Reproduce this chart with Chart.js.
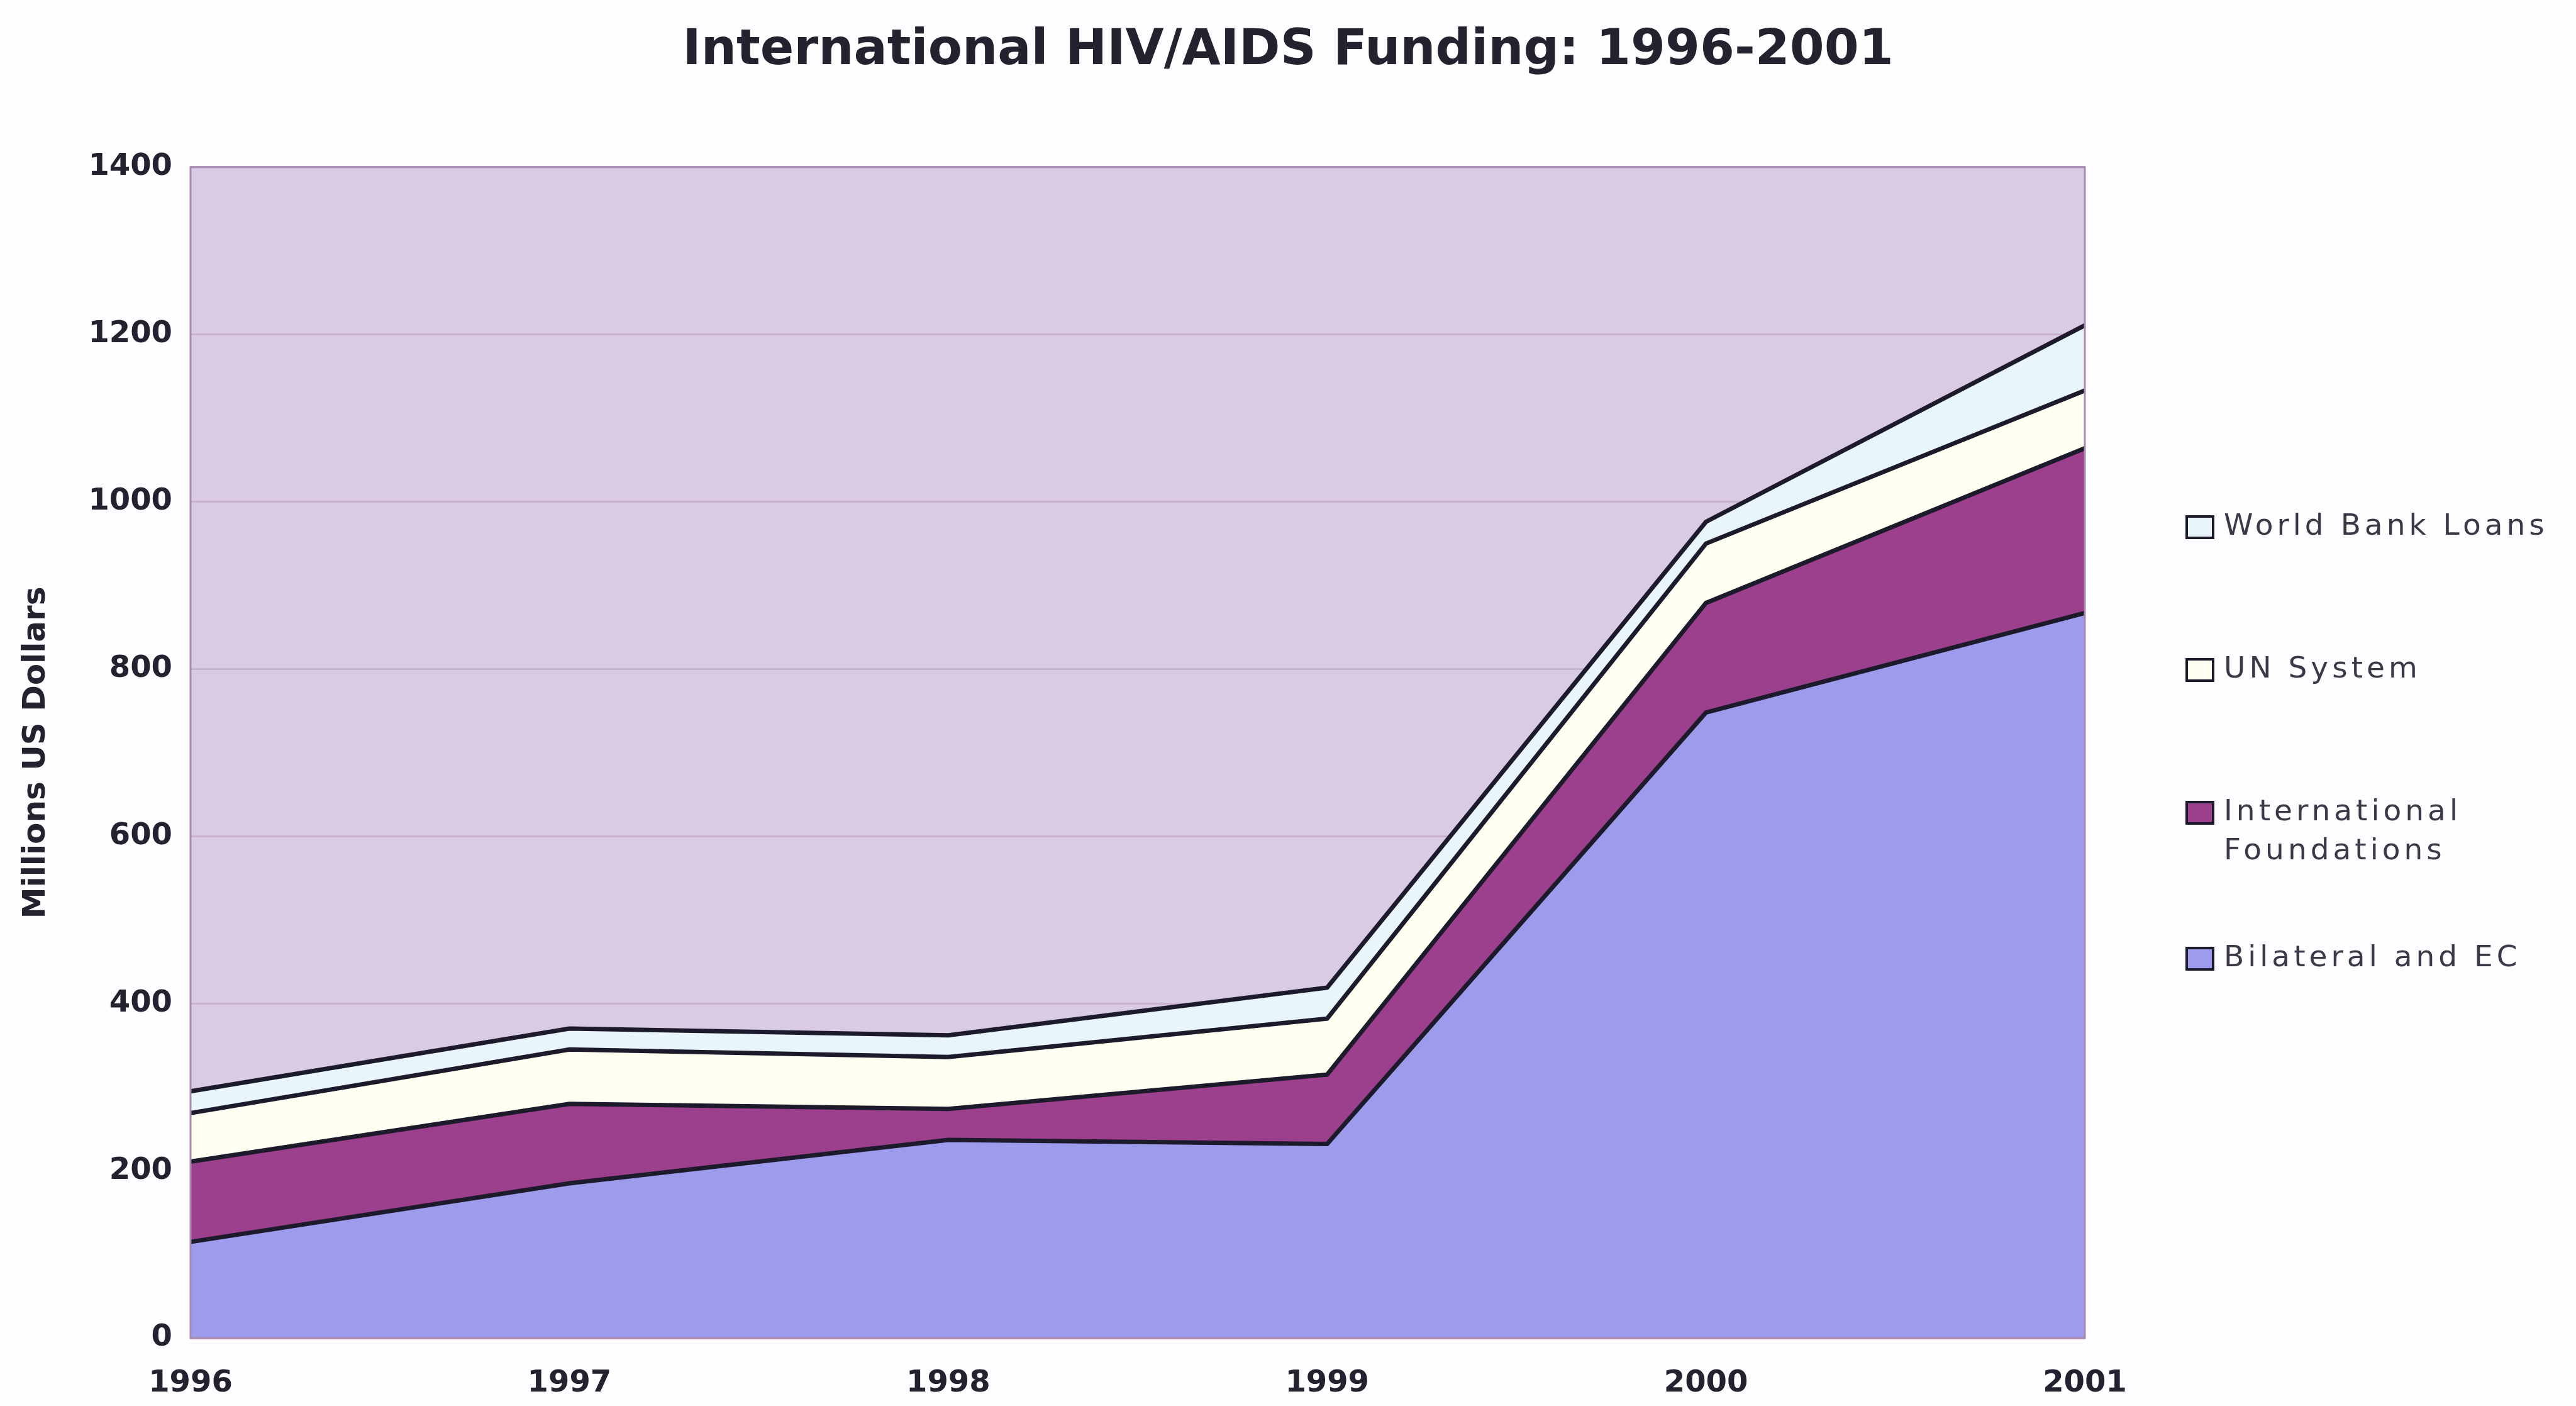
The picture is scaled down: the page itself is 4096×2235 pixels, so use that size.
<!DOCTYPE html>
<html lang="en">
<head>
<meta charset="UTF-8">
<title>International HIV/AIDS Funding: 1996-2001</title>
<script src="https://cdn.jsdelivr.net/npm/chart.js"></script>
<style>
    html, body {
        margin: 0;
        padding: 0;
        background: #fdfdff;
    }
    #myChart {
        display: block;
    }
</style>
</head>
<body>

<canvas id="myChart" width="4096" height="2235"></canvas>

<script>
    // values (millions of US dollars, per layer)
    const years = ['1996', '1997', '1998', '1999', '2000', '2001'];
    const bilateralEC = [115, 185, 237, 232, 748, 867];
    const intlFoundations = [96, 95, 37, 83, 131, 197];
    const unSystem = [58, 65, 62, 67, 71, 69];
    const worldBankLoans = [26, 25, 26, 37, 26, 78];

    const yMax = 1400;
    const yStep = 200;

    // legend, top to bottom as in the picture
    const legendItems = [
        { lines: ['World Bank Loans'], color: '#e8f6fb' },
        { lines: ['UN System'], color: '#fffff2' },
        { lines: ['International', 'Foundations'], color: '#9c3f8c' },
        { lines: ['Bilateral and EC'], color: '#9c9bec' }
    ];

    const outline = '#1d1b2b';
    const textColor = '#25222f';

    const plotBackground = {
        id: 'plotBackground',
        beforeDraw(chart) {
            const a = chart.chartArea;
            const c = chart.ctx;
            c.save();
            c.fillStyle = '#dacbe5';
            c.fillRect(a.left, a.top, a.right - a.left, a.bottom - a.top);
            c.restore();
        },
        afterDraw(chart) {
            const a = chart.chartArea;
            const c = chart.ctx;
            c.save();
            c.strokeStyle = '#a88aae';
            c.lineWidth = 3;
            c.strokeRect(a.left, a.top, a.right - a.left, a.bottom - a.top);
            c.restore();
        }
    };

    const sideLegend = {
        id: 'sideLegend',
        afterDraw(chart) {
            const c = chart.ctx;
            const rowY = [838, 1065, 1292, 1524];
            c.save();
            c.font = '47px "DejaVu Sans"';
            c.letterSpacing = '6px';
            c.textBaseline = 'middle';
            legendItems.forEach((item, i) => {
                const y = rowY[i];
                c.fillStyle = item.color;
                c.fillRect(3477, y - 17, 42, 34);
                c.strokeStyle = outline;
                c.lineWidth = 4;
                c.strokeRect(3477, y - 17, 42, 34);
                c.fillStyle = '#3c3848';
                item.lines.forEach((t, k) => {
                    c.fillText(t, 3536, y + k * 62);
                });
            });
            c.restore();
        }
    };

    function layer(label, data, color, fill) {
        return {
            label: label,
            data: data,
            backgroundColor: color,
            borderColor: outline,
            borderWidth: 7,
            fill: fill,
            pointRadius: 0,
            tension: 0
        };
    }

    const ctx = document.getElementById('myChart').getContext('2d');
    const chart = new Chart(ctx, {
        type: 'line',
        data: {
            labels: years,
            datasets: [
                layer('Bilateral and EC', bilateralEC, legendItems[3].color, 'origin'),
                layer('International Foundations', intlFoundations, legendItems[2].color, '-1'),
                layer('UN System', unSystem, legendItems[1].color, '-1'),
                layer('World Bank Loans', worldBankLoans, legendItems[0].color, '-1')
            ]
        },
        options: {
            responsive: false,
            animation: false,
            layout: {
                padding: 0
            },
            plugins: {
                legend: { display: false },
                tooltip: { enabled: false },
                title: {
                    display: true,
                    text: 'International HIV/AIDS Funding: 1996-2001',
                    color: textColor,
                    font: { family: '"DejaVu Sans"', size: 79, weight: 'bold', lineHeight: 1.2 },
                    padding: { top: 34, bottom: 137 }
                }
            },
            scales: {
                x: {
                    offset: false,
                    grid: { display: false },
                    border: { display: false },
                    ticks: {
                        color: textColor,
                        font: { family: '"DejaVu Sans"', size: 48, weight: 'bold' },
                        padding: 36,
                        maxRotation: 0
                    },
                    afterFit(scale) { scale.height = 108; }
                },
                y: {
                    stacked: true,
                    min: 0,
                    max: yMax,
                    ticks: {
                        stepSize: yStep,
                        color: textColor,
                        font: { family: '"DejaVu Sans"', size: 48, weight: 'bold' },
                        padding: 29,
                        callback: (v) => String(v)
                    },
                    grid: {
                        color: '#c8b2cf',
                        lineWidth: 3,
                        drawTicks: false
                    },
                    border: { display: false },
                    title: {
                        display: true,
                        text: 'Millions US Dollars',
                        color: textColor,
                        font: { family: '"DejaVu Sans"', size: 50, weight: 'bold' },
                        padding: { top: 28, bottom: 0 }
                    },
                    afterFit(scale) { scale.width = 303; }
                },
                // empty right-hand scale that keeps room for the legend
                side: {
                    type: 'linear',
                    position: 'right',
                    min: 0,
                    max: yMax,
                    grid: { display: false },
                    border: { display: false },
                    ticks: { display: false },
                    afterFit(scale) { scale.width = 781; }
                }
            }
        },
        plugins: [plotBackground, sideLegend]
    });
</script>

</body>
</html>
